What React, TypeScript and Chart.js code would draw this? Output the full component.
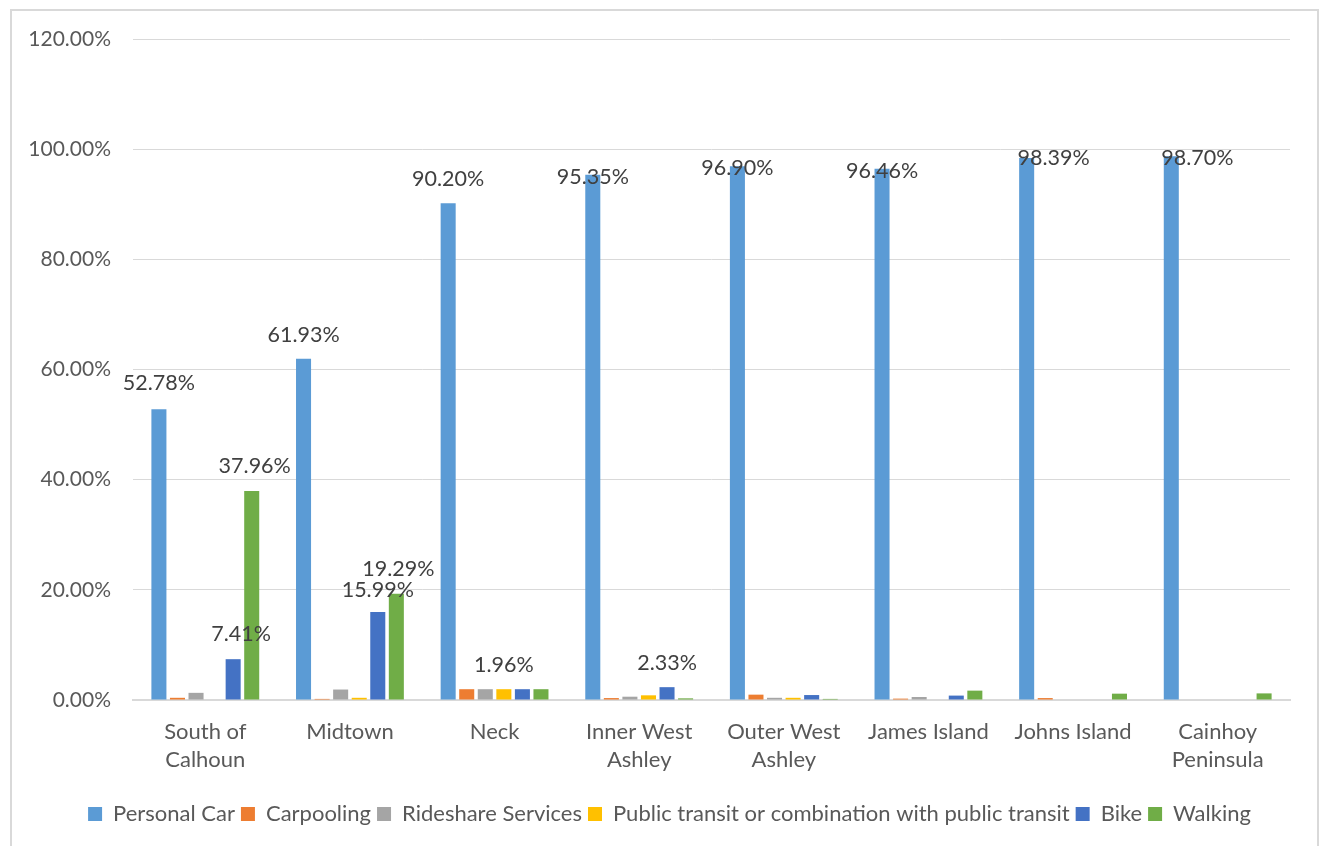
import React, { useEffect, useRef } from "react";
import { Chart, registerables } from "chart.js";

Chart.register(...registerables);

const categories: (string | string[])[] = [
  ["South of", "Calhoun"],
  "Midtown",
  "Neck",
  ["Inner West", "Ashley"],
  ["Outer West", "Ashley"],
  "James Island",
  "Johns Island",
  ["Cainhoy", "Peninsula"],
];

const seriesNames = [
  "Personal Car",
  "Carpooling",
  "Rideshare Services",
  "Public transit or combination with public transit",
  "Bike",
  "Walking",
];

const personalCar = [52.78, 61.93, 90.2, 95.35, 96.9, 96.46, 98.39, 98.7];
const carpooling = [0.4, 0.2, 1.96, 0.35, 0.97, 0.25, 0.35, 0];
const rideshare = [1.3, 1.9, 1.96, 0.6, 0.4, 0.55, 0, 0];
const publicTransit = [0, 0.4, 1.96, 0.85, 0.4, 0, 0, 0];
const bike = [7.41, 15.99, 1.96, 2.33, 0.9, 0.8, 0, 0];
const walking = [37.96, 19.29, 1.96, 0.3, 0.2, 1.7, 1.15, 1.2];

const yTicks = [0, 20, 40, 60, 80, 100, 120];

// [series index, category index] of the bars that carry a value label
const labeledPoints: [number, number][] = [
  [0, 0], [0, 1], [0, 2], [0, 3], [0, 4], [0, 5], [0, 6], [0, 7],
  [4, 0], [5, 0], [4, 1], [5, 1], [3, 2], [4, 3],
];

const colors = ["#5B9BD5", "#ED7D31", "#A5A5A5", "#FFC000", "#4472C4", "#70AD47"];

// label placement tweaks (px) keyed "series-index"
const labelShift: Record<string, [number, number]> = {
  "0-3": [0, 2],
  "0-4": [0, 2],
  "0-5": [0, 2],
  "0-6": [27, 0],
  "0-7": [26, 2],
  "4-0": [8, -25],
  "5-0": [3, -25],
  "4-1": [0, -22],
  "5-1": [2, -25],
  "0-0": [0, -26],
};

const valueLabelPlugin = {
  id: "valueLabels",
  afterDatasetsDraw(chart: any) {
    const ctx = chart.ctx;
    ctx.save();
    ctx.font = "21.5px Lato";
    ctx.fillStyle = "#404040";
    ctx.textAlign = "center";
    ctx.textBaseline = "middle";
    labeledPoints.forEach(([s, i]) => {
      const meta = chart.getDatasetMeta(s);
      const el = meta.data[i];
      if (!el) return;
      const v = chart.data.datasets[s].data[i] as number;
      const sh = labelShift[`${s}-${i}`] || [0, -24];
      ctx.fillText(v.toFixed(2) + "%", el.x + sh[0], el.y + sh[1]);
    });
    ctx.restore();
  },
};

export default function App() {
  const ref = useRef<HTMLCanvasElement | null>(null);

  useEffect(() => {
    if (!ref.current) return;
    Chart.defaults.font.family = "Lato";
    const allSeries = [personalCar, carpooling, rideshare, publicTransit, bike, walking];
    const chart = new Chart(ref.current, {
      type: "bar",
      data: {
        labels: categories,
        datasets: allSeries.map((d, k) => ({
          label: seriesNames[k],
          data: d,
          backgroundColor: colors[k],
          borderWidth: 0,
          barPercentage: 0.81,
          categoryPercentage: 0.77,
          yAxisID: "y",
        })),
      },
      options: {
        animation: false,
        responsive: true,
        maintainAspectRatio: false,
        layout: { padding: { top: 28, right: 0, left: 10, bottom: 11 } },
        plugins: {
          tooltip: { enabled: false },
          legend: {
            position: "bottom",
            labels: {
              boxWidth: 14,
              boxHeight: 14,
              padding: 6,
              color: "#595959",
              font: { size: 22, family: "Lato" },
            },
          },
        },
        scales: {
          x: {
            grid: { display: false, drawTicks: false },
            border: { display: true, color: "#d9d9d9", width: 2 },
            ticks: {
              color: "#595959",
              font: { size: 22, family: "Lato", lineHeight: 1.27 },
              padding: 18,
              maxRotation: 0,
              autoSkip: false,
            },
            afterFit: (s: any) => {
              s.height = 97;
            },
          },
          y: {
            min: 0,
            max: 120,
            afterBuildTicks: (s: any) => {
              s.ticks = yTicks.map((v) => ({ value: v }));
            },
            grid: { color: "#d9d9d9", lineWidth: 1, drawTicks: false },
            border: { display: false },
            ticks: {
              color: "#595959",
              font: { size: 21, family: "Lato" },
              padding: 22,
              callback: (v: any) => Number(v).toFixed(2) + "%",
            },
            afterFit: (s: any) => {
              s.width = 111;
              s.paddingTop = 0;
              s.paddingBottom = 0;
            },
          },
          ySpacer: {
            position: "right",
            display: true,
            grid: { display: false, drawTicks: false },
            border: { display: false },
            ticks: { display: false },
            afterFit: (s: any) => {
              s.width = 27;
              s.paddingTop = 0;
              s.paddingBottom = 0;
            },
          },
        },
      },
      plugins: [valueLabelPlugin],
    });
    return () => chart.destroy();
  }, []);

  return (
    <div
      style={{
        position: "fixed",
        left: 10,
        top: 9,
        width: 1305,
        height: 835,
        border: "2px solid #d9d9d9",
        borderBottom: "none",
        background: "#fff",
      }}
    >
      <div style={{ position: "relative", width: 1305, height: 835 }}>
        <canvas ref={ref} />
      </div>
    </div>
  );
}
